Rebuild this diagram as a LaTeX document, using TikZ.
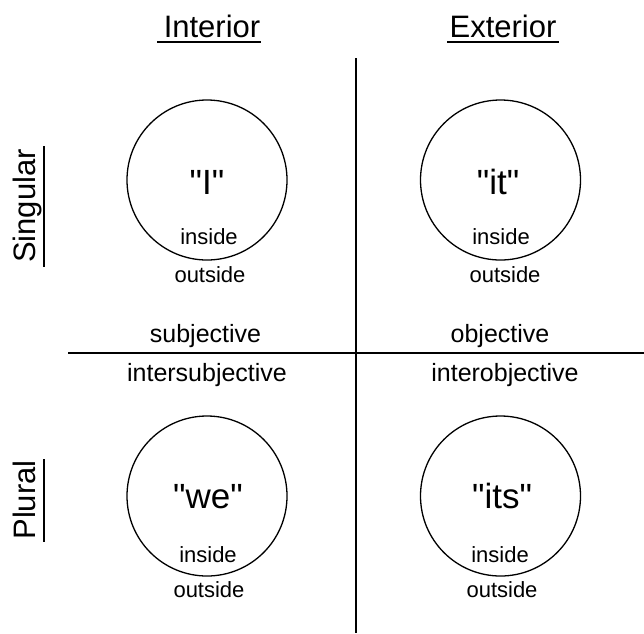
\documentclass[tikz,border=0pt]{standalone}
\usepackage{fontspec}
\setmainfont{Liberation Sans}
\newfontfamily\qfont{Liberation Sans}
\newcommand{\fsz}[1]{\fontsize{#1}{#1}\selectfont}
\begin{document}
\begin{tikzpicture}[x=1pt,y=-1pt,
  head/.style={anchor=base,inner sep=0pt,font=\fsz{31}},
  quote/.style={anchor=base,inner sep=0pt,font=\qfont\fsz{35}},
  lbl/.style={anchor=base,inner sep=0pt,font=\fsz{25}},
  small/.style={anchor=base,inner sep=0pt,font=\fsz{22}},
  ring/.style={draw=black,line width=1.3pt},
  rule/.style={draw=black,line width=1.8pt}]
\useasboundingbox (0,0) rectangle (644,633);
% axes
\draw[rule] (356,58) -- (356,633);
\draw[rule,line width=2pt] (68,353) -- (644,353);
% headings
\node[head] (int) at (212,37) {Interior};
\node[head] (ext) at (503,37) {Exterior};
\draw[rule] (157,42) -- (261,42);
\draw[rule] (447,42) -- (559,42);
\node[head,rotate=90] (sing) at (35,206) {Singular};
\node[head,rotate=90] (plur) at (35,500) {Plural};
\draw[rule] (44,146) -- (44,267);
\draw[rule] (44,459) -- (44,542);
% circles
\draw[ring] (207,180) circle (80);
\draw[ring] (500.5,180) circle (80);
\draw[ring] (207,496) circle (80);
\draw[ring] (500.5,496) circle (80);
% circle texts
\node[quote] (qI) at (207,194) {"I"};
\node[quote] (qit) at (498,194) {"it"};
\node[quote] (qwe) at (208,508) {"we"};
\node[quote] (qits) at (502,508) {"its"};
\node[small] (in1) at (209,244) {inside};
\node[small] (out1) at (210,282) {outside};
\node[small] (in2) at (501,244) {inside};
\node[small] (out2) at (505,282) {outside};
\node[small] (in3) at (208,562) {inside};
\node[small] (out3) at (209,597) {outside};
\node[small] (in4) at (500,562) {inside};
\node[small] (out4) at (502,597) {outside};
% quadrant labels
\node[lbl] (subj) at (205.5,342) {subjective};
\node[lbl] (obj) at (500,342) {objective};
\node[lbl] (isubj) at (207,381) {intersubjective};
\node[lbl] (iobj) at (505,381) {interobjective};
\end{tikzpicture}
\end{document}
